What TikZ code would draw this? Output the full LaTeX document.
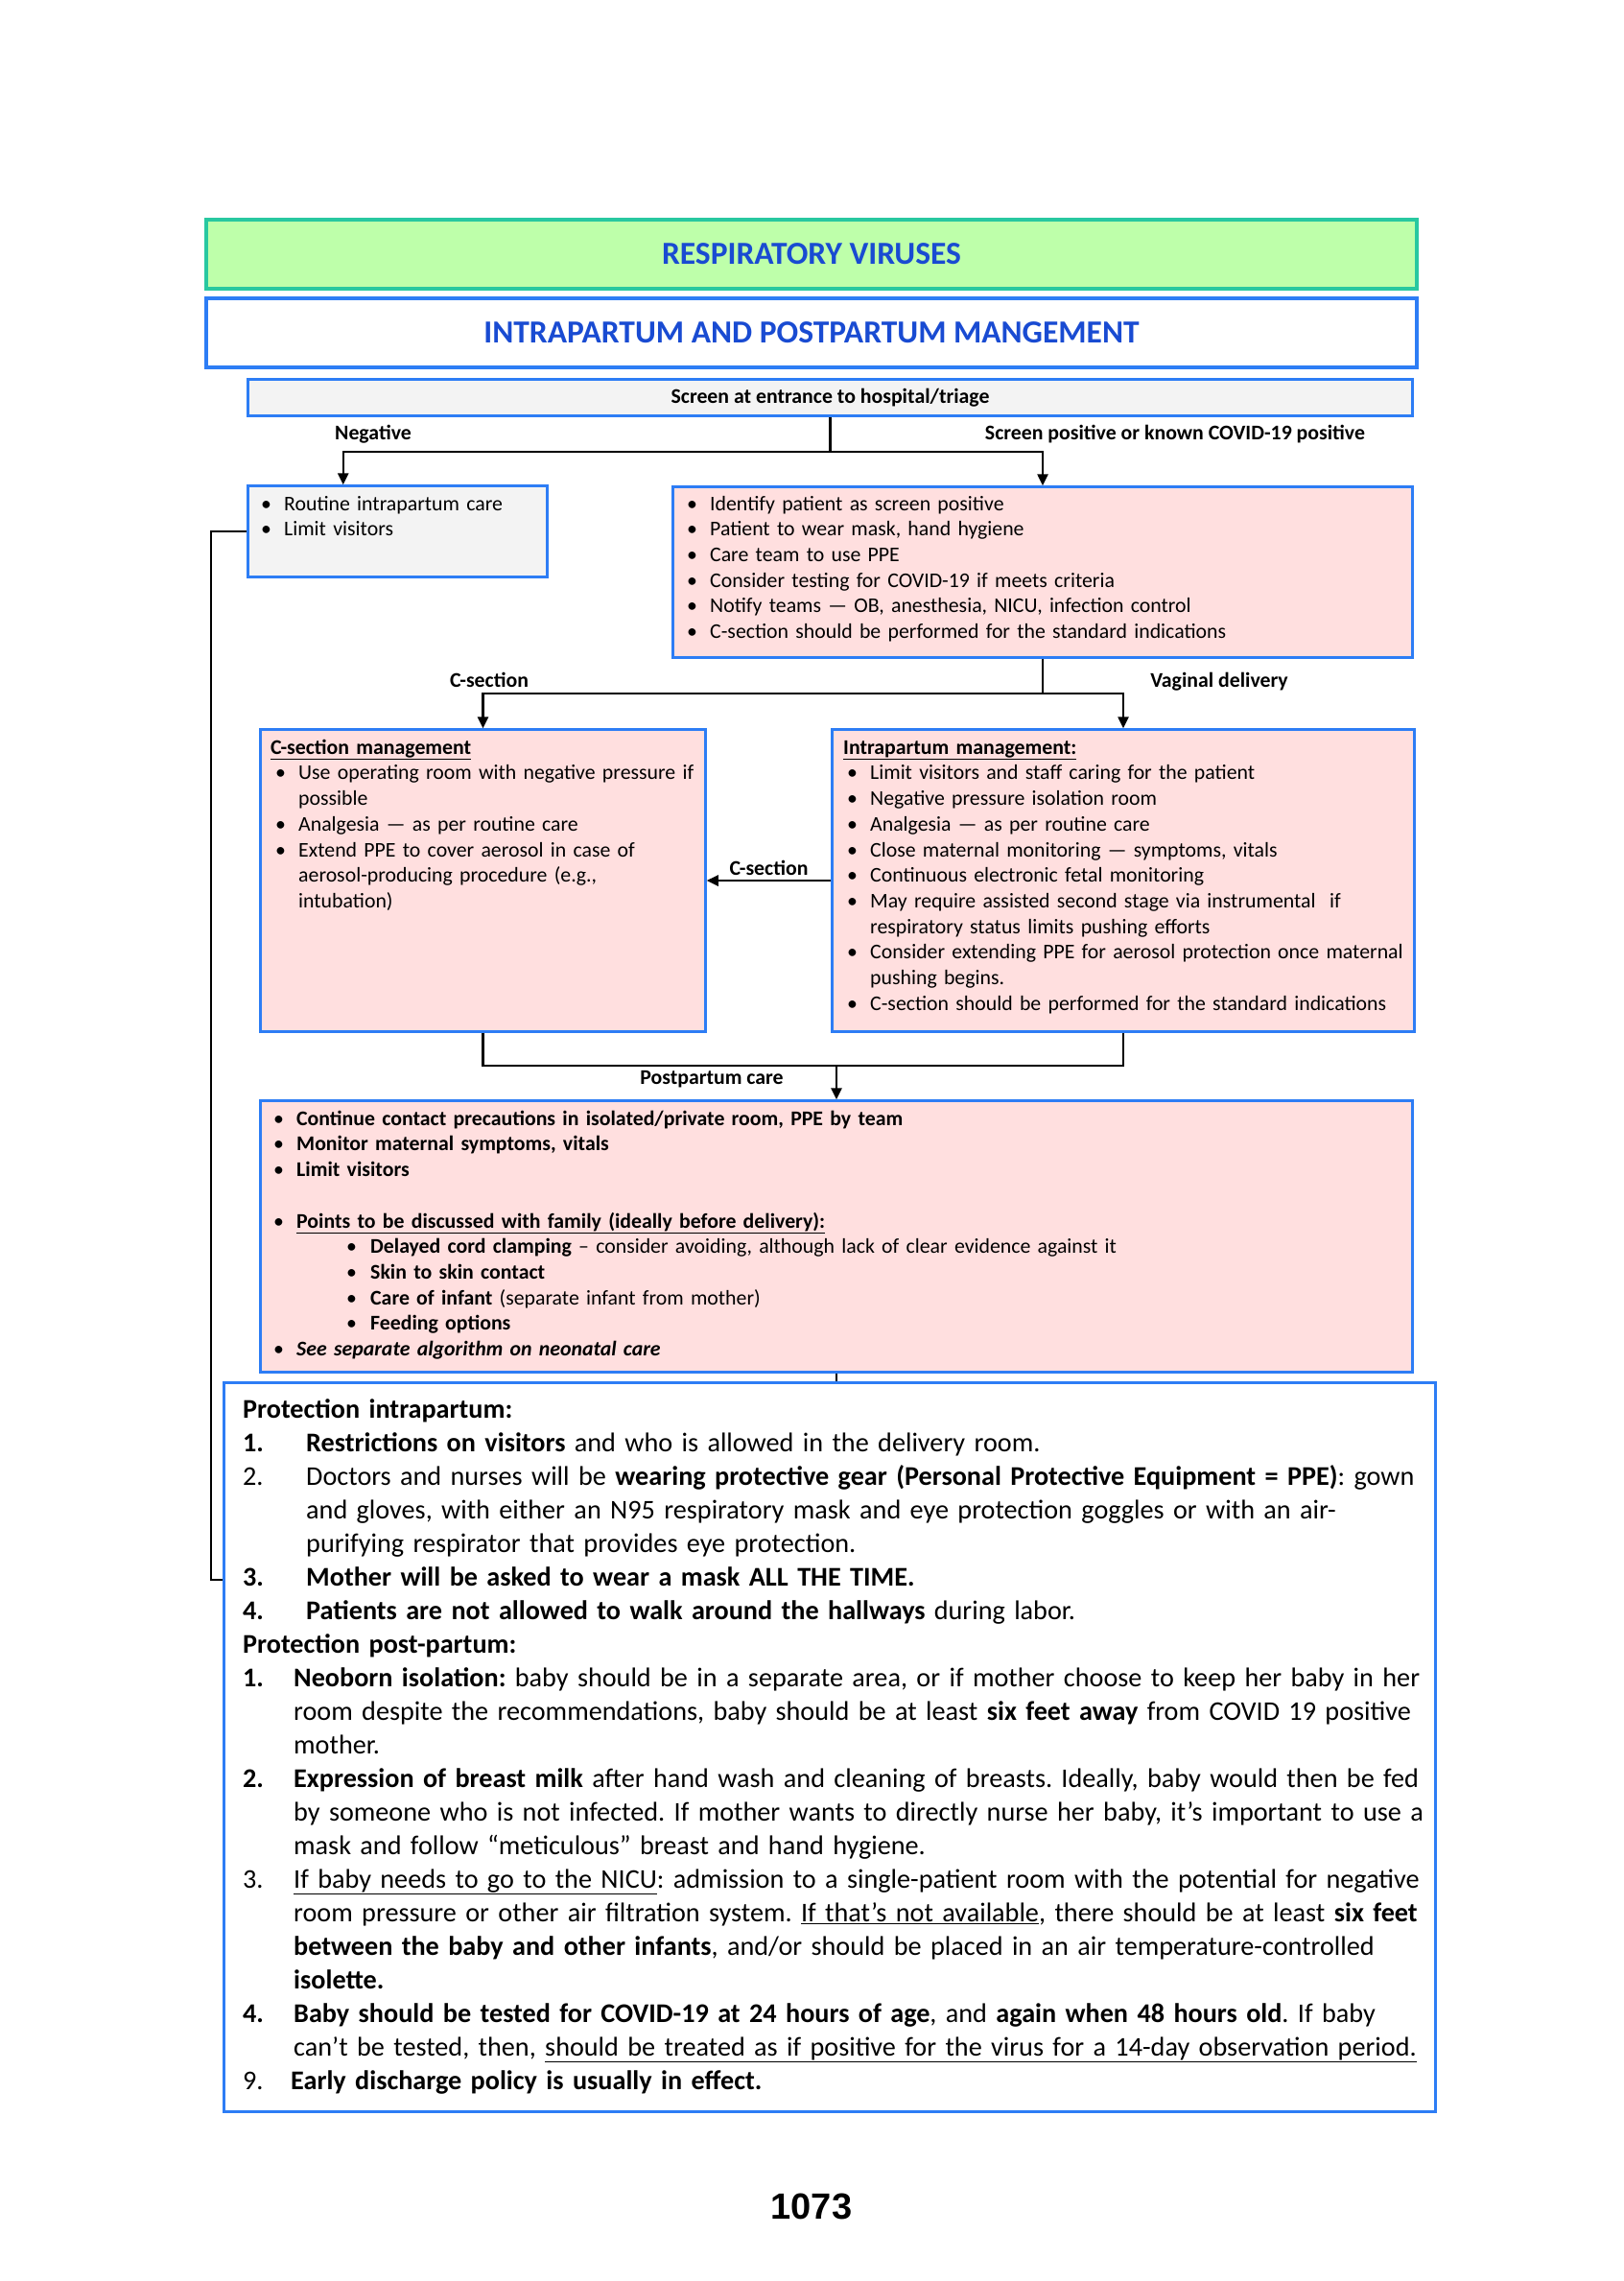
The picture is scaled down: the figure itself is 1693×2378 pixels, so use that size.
\documentclass[tikz,border=0pt]{standalone}
\usepackage{fontspec}
\setmainfont{Carlito}
\newfontfamily\pagefont{Liberation Sans}
\usetikzlibrary{arrows.meta,positioning}
\frenchspacing

\definecolor{hdrgreen}{RGB}{190,255,170}
\definecolor{hdrteal}{RGB}{40,200,160}
\definecolor{hdrblue}{RGB}{25,75,210}
\definecolor{boxblue}{RGB}{45,125,245}
\definecolor{boxpink}{RGB}{255,223,223}
\definecolor{boxgray}{RGB}{243,243,243}

% bullet / sub-bullet / numbered lines
\newcommand{\bitem}[1]{\hangindent=24pt\hangafter=1\noindent\strut\makebox[24pt][l]{\textbullet}#1\par}
\newcommand{\sitem}[1]{\hangindent=101pt\hangafter=1\noindent\strut\hspace*{76pt}\makebox[25pt][l]{\textbullet}#1\par}
\newcommand{\nitem}[3]{\hangindent=#1\hangafter=1\noindent\strut\makebox[#1][l]{#2}#3\par}

\begin{document}
\begin{tikzpicture}[x=1pt,y=-1pt,
  hdr/.style={line width=4pt, inner sep=0pt, minimum width=1262pt, minimum height=72pt,
    text=hdrblue, font=\bfseries\fontsize{33.5}{40}\selectfont},
  box/.style={draw=boxblue, line width=2.5pt, inner sep=0pt},
  txt/.style={anchor=north west, inner sep=0pt, align=left, font=\fontsize{21.8}{26.7}\selectfont},
  lbl/.style={inner sep=0pt, font=\bfseries\fontsize{21.8}{26}\selectfont},
  flow/.style={line width=2.5pt, -{Triangle[length=12pt,width=11pt]}},
  link/.style={line width=2.5pt}]

\useasboundingbox (0,0) rectangle (1693,2378);

% Headers
\node[hdr, draw=hdrteal, fill=hdrgreen] (title) at (846,265) {RESPIRATORY VIRUSES};
\node[hdr, draw=boxblue, fill=white] (subtitle) at (846,347) {INTRAPARTUM AND POSTPARTUM MANGEMENT};

% Boxes
\node[box, fill=boxgray, minimum width=1214pt, minimum height=38pt, font=\bfseries\fontsize{21.8}{26}\selectfont]
  (screen) at (865.5,414.5) {Screen at entrance to hospital/triage};
\node[box, fill=boxgray, minimum width=312pt, minimum height=95pt] (routine) at (414.5,554) {};
\node[box, fill=boxpink, minimum width=771pt, minimum height=178pt] (positive) at (1087,596.5) {};
\node[box, fill=boxpink, minimum width=464pt, minimum height=315pt] (csec) at (503.5,918) {};
\node[box, fill=boxpink, minimum width=607pt, minimum height=315pt] (intra) at (1171,918) {};
\node[box, fill=boxpink, minimum width=1201pt, minimum height=283pt] (post) at (872,1289) {};
\node[box, fill=white, line width=3.5pt, minimum width=1263pt, minimum height=760pt] (protect) at (865,1821.5) {};

% Box texts
\node[txt, text width=290pt] (routinetxt) at (272,513.3) {%
\bitem{Routine intrapartum care}
\bitem{Limit visitors}};

\node[txt, text width=748pt] (positivetxt) at (716,513.3) {%
\bitem{Identify patient as screen positive}
\bitem{Patient to wear mask, hand hygiene}
\bitem{Care team to use PPE}
\bitem{Consider testing for COVID-19 if meets criteria}
\bitem{Notify teams — OB, anesthesia, NICU, infection control}
\bitem{C-section should be performed for the standard indications}};

\node[txt, text width=470pt] (csectxt) at (287,767.3) {%
\noindent\strut\hspace*{-5pt}\textbf{\underline{C-section management}}\par
\bitem{Use operating room with negative pressure if\newline possible}
\bitem{Analgesia — as per routine care}
\bitem{Extend PPE to cover aerosol in case of\newline aerosol-producing procedure (e.g.,\newline intubation)}};

\node[txt, text width=620pt] (intratxt) at (883,767.3) {%
\noindent\strut\hspace*{-4pt}\textbf{\underline{Intrapartum management:}}\par
\bitem{Limit visitors and staff caring for the patient}
\bitem{Negative pressure isolation room}
\bitem{Analgesia — as per routine care}
\bitem{Close maternal monitoring — symptoms, vitals}
\bitem{Continuous electronic fetal monitoring}
\bitem{May require assisted second stage via instrumental~ if\newline respiratory status limits pushing efforts}
\bitem{Consider extending PPE for aerosol protection once maternal\newline pushing begins.}
\bitem{C-section should be performed for the standard indications}};

\node[txt, text width=1170pt] (posttxt) at (285,1154.3) {%
\bitem{\textbf{Continue contact precautions in isolated/private room, PPE by team}}
\bitem{\textbf{Monitor maternal symptoms, vitals}}
\bitem{\textbf{Limit visitors}}
\vspace{\baselineskip}
\bitem{\textbf{\underline{Points to be discussed with family (ideally before delivery):}}}
\sitem{\textbf{Delayed cord clamping} – consider avoiding, although lack of clear evidence against it}
\sitem{\textbf{Skin to skin contact}}
\sitem{\textbf{Care of infant} (separate infant from mother)}
\sitem{\textbf{Feeding options}}
\bitem{\textbf{\textit{See separate algorithm on neonatal care}}}};

\node[txt, text width=1240pt, font=\fontsize{28.2}{35}\selectfont] (protecttxt) at (253,1453.5) {%
\noindent\strut\textbf{Protection intrapartum:}\par
\nitem{66pt}{\textbf{1.}}{\textbf{Restrictions on visitors} and who is allowed in the delivery room.}
\nitem{66pt}{2.}{Doctors and nurses will be \textbf{wearing protective gear (Personal Protective Equipment = PPE)}: gown\newline
  and gloves, with either an N95 respiratory mask and eye protection goggles or with an air-\newline
  purifying respirator that provides eye protection.}
\nitem{66pt}{\textbf{3.}}{\textbf{Mother will be asked to wear a mask ALL THE TIME.}}
\nitem{66pt}{\textbf{4.}}{\textbf{Patients are not allowed to walk around the hallways} during labor.}
\noindent\strut\textbf{Protection post-partum:}\par
\nitem{53pt}{\textbf{1.}}{\textbf{Neoborn isolation:} baby should be in a separate area, or if mother choose to keep her baby in her\newline
  room despite the recommendations, baby should be at least \textbf{six feet away} from COVID 19 positive\newline
  mother.}
\nitem{53pt}{\textbf{2.}}{\textbf{Expression of breast milk} after hand wash and cleaning of breasts. Ideally, baby would then be fed\newline
  by someone who is not infected. If mother wants to directly nurse her baby, it’s important to use a\newline
  mask and follow “meticulous” breast and hand hygiene.}
\nitem{53pt}{3.}{\underline{If baby needs to go to the NICU}: admission to a single-patient room with the potential for negative\newline
  room pressure or other air filtration system. \underline{If that’s not available}, there should be at least \textbf{six feet}\newline
  \textbf{between the baby and other infants}, and/or should be placed in an air temperature-controlled\newline
  \textbf{isolette.}}
\nitem{53pt}{\textbf{4.}}{\textbf{Baby should be tested for COVID-19 at 24 hours of age}, and \textbf{again when 48 hours old}. If baby\newline
  can’t be tested, then, \underline{should be treated as if positive for the virus for a 14-day observation period.}}
\nitem{50pt}{9.}{\textbf{Early discharge policy is usually in effect.}}};

% Labels
\node[lbl, anchor=base] (neglabel) at (389,458) {Negative};
\node[lbl, anchor=base] (poslabel) at (1225,458) {Screen positive or known COVID-19 positive};
\node[lbl, anchor=base] (cseclabel) at (510,716) {C-section};
\node[lbl, anchor=base] (vaglabel) at (1271,716) {Vaginal delivery};
\node[lbl, anchor=base] (pplabel) at (742,1130) {Postpartum care};

% Connectors
\coordinate (screensplit) at (865.5,471);
\coordinate (deliverysplit) at (1087,723);
\coordinate (merge) at (872,1111);
\coordinate (sidebend) at (220,1647);

\draw[link] (screen.south) -- (screensplit);
\draw[flow] (screensplit) -| ([xshift=100.5pt]routine.north west);
\draw[flow] (screensplit) -| (positive.north);
\draw[link] (routine.west) -| (sidebend) -- (sidebend -| protect.west);

\draw[link] (positive.south) -- (deliverysplit);
\draw[flow] (deliverysplit) -| (csec.north);
\draw[flow] (deliverysplit) -| (intra.north);
\draw[flow] (intra.west) -- node[lbl, above=4pt] (csecalt) {C-section} (csec.east);

\draw[link] (csec.south) |- (merge) -| (intra.south);
\draw[flow] (merge) -- (post.north);
\draw[link] (post.south) -- (post.south |- protect.north);

% Page number
\node[font=\pagefont\bfseries\fontsize{38}{44}\selectfont, anchor=base, inner sep=0pt] (pagenum) at (846,2313) {1073};

\end{tikzpicture}
\end{document}
